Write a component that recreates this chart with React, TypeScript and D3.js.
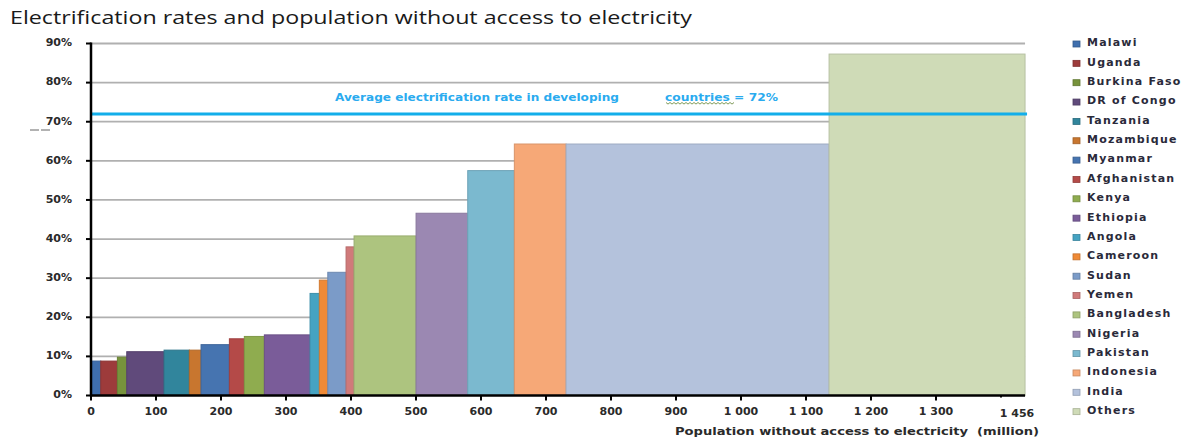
import React, { useEffect } from "react";
import * as d3 from "d3";

// Countries ordered by electrification rate, with population lacking access (million)
const countries = [
  "Malawi", "Uganda", "Burkina Faso", "DR of Congo", "Tanzania", "Mozambique",
  "Myanmar", "Afghanistan", "Kenya", "Ethiopia", "Angola", "Cameroon", "Sudan",
  "Yemen", "Bangladesh", "Nigeria", "Pakistan", "Indonesia", "India", "Others",
];
const populationWithout = [
  15, 25.6, 14.4, 57.4, 38.9, 18, 43.6, 23, 30.8, 70.3, 14.3, 13, 28.1, 12.3,
  95.4, 79.5, 71.7, 79.6, 404.6, 301.5,
];
const electrificationRate = [
  8.8, 8.8, 9.8, 11.2, 11.6, 11.6, 13.0, 14.5, 15.1, 15.5, 26.1, 29.5, 31.5,
  38.0, 40.8, 46.6, 57.5, 64.3, 64.3, 87.3,
];
const colors = [
  "#3f6fae", "#9d3b3b", "#77933c", "#604a7b", "#31859c", "#c8762f", "#4674b0",
  "#b44a48", "#8fac4f", "#7a5c99", "#45a3c2", "#ef8a36", "#7b9bc8", "#d07a7a",
  "#adc47f", "#9b88b2", "#7bb9cf", "#f6a877", "#b4c2dc", "#cfdbb7",
];

const yTicks = [0, 10, 20, 30, 40, 50, 60, 70, 80, 90];
const xTicks = [0, 100, 200, 300, 400, 500, 600, 700, 800, 900, 1000, 1100, 1200, 1300, 1400];
const xTickLabels = ["0", "100", "200", "300", "400", "500", "600", "700", "800", "900", "1 000", "1 100", "1 200", "1 300", "1 456"];
const averageRate = 72;

const W = 1195;
const H = 438;

export default function App() {
  useEffect(() => {
    document.body.style.margin = "0";
  }, []);

  const x = d3.scaleLinear().domain([0, 1400]).range([91, 1001]);
  const y = d3.scaleLinear().domain([0, 90]).range([395.5, 43.5]);

  const starts = d3.cumsum([0, ...populationWithout.slice(0, -1)]);
  const bars = countries.map((c, i) => ({
    name: c,
    x0: starts[i],
    x1: starts[i] + populationWithout[i],
    rate: electrificationRate[i],
    color: colors[i],
  }));
  const plotRight = x(d3.sum(populationWithout));

  const font = "'DejaVu Sans', Verdana, sans-serif";
  const legendStep = 19.35;

  // wavy underline beneath "countries"
  const wave = d3.line<number>()
    .x((d) => 666 + d * 2)
    .y((d, i) => 102.5 + (i % 2 === 0 ? 0 : 1.6))(d3.range(0, 35));

  return (
    <svg width={W} height={H} style={{ position: "absolute", left: 0, top: 0, background: "#fff" }}>
      <text x={10} y={24} fontFamily="'Open Sans', 'Noto Sans', sans-serif" fontSize={18}
        fill="#1a1a1a" textLength={682} lengthAdjust="spacingAndGlyphs">
        Electrification rates and population without access to electricity
      </text>

      {/* gridlines */}
      {yTicks.filter((t) => t > 0).map((t) => (
        <line key={"g" + t} x1={x(0)} x2={plotRight} y1={y(t)} y2={y(t)} stroke="#b0b0b0" strokeWidth={1.8} />
      ))}

      {/* variable-width bars */}
      {bars.map((b) => (
        <rect key={b.name} x={x(b.x0)} y={y(b.rate)} width={x(b.x1) - x(b.x0)} height={y(0) - y(b.rate)}
          fill={b.color} stroke={d3.color(b.color)!.darker(0.35).formatHex()} strokeWidth={1} />
      ))}

      {/* average electrification line */}
      <line x1={x(0) - 1} x2={plotRight + 2} y1={y(averageRate)} y2={y(averageRate)} stroke="#12aeea" strokeWidth={3} />
      <text x={335} y={101} fontFamily={font} fontSize={11} fontWeight="bold" fill="#2aabef"
        textLength={284} lengthAdjust="spacingAndGlyphs">
        Average electrification rate in developing
      </text>
      <text x={665} y={101} fontFamily={font} fontSize={11} fontWeight="bold" fill="#2aabef"
        textLength={113} lengthAdjust="spacingAndGlyphs">
        countries = 72%
      </text>
      <path d={wave ?? ""} fill="none" stroke="#6f8f45" strokeWidth={0.9} />

      {/* y axis */}
      <line x1={x(0)} x2={x(0)} y1={y(90) - 1} y2={y(0) + 1} stroke="#000" strokeWidth={2.5} />
      {yTicks.map((t) => (
        <g key={"y" + t}>
          <line x1={x(0) - 5} x2={x(0)} y1={y(t)} y2={y(t)} stroke="#000" strokeWidth={2} />
          <text x={72} y={y(t) - 1} dy="0.35em" textAnchor="end" fontFamily={font} fontSize={11}
            fontWeight="bold" fill="#2a2a2a">{t}%</text>
        </g>
      ))}
      <line x1={30} x2={52} y1={130} y2={130} stroke="#666" strokeWidth={1} strokeDasharray="9,2" />

      {/* x axis */}
      <line x1={x(0) - 1} x2={plotRight} y1={y(0)} y2={y(0)} stroke="#000" strokeWidth={2.5} />
      {xTicks.map((t, i) => {
        const last = i === xTicks.length - 1;
        return (
          <g key={"x" + t}>
            <line x1={x(t)} x2={x(t)} y1={y(0)} y2={y(0) + (last ? 2 : 5)} stroke="#000" strokeWidth={2} />
            <text x={x(t) + (last ? 16 : 0)} y={last ? 417 : 415} textAnchor="middle" fontFamily={font}
              fontSize={11} fontWeight="bold" fill="#2a2a2a">{xTickLabels[i]}</text>
          </g>
        );
      })}
      <text x={675} y={435} fontFamily={font} fontSize={11} fontWeight="bold" fill="#2a2a2a"
        textLength={364} lengthAdjust="spacingAndGlyphs" style={{ whiteSpace: "pre" }}>
        {"Population without access to electricity  (million)"}
      </text>

      {/* legend */}
      {bars.map((b, i) => {
        const cy = 44 + i * legendStep;
        return (
          <g key={"l" + b.name}>
            <rect x={1073} y={cy - 3} width={7} height={6} fill={b.color}
              stroke={d3.color(b.color)!.darker(0.6).formatHex()} strokeWidth={0.8} />
            <text x={1087} y={cy - 1.5} dy="0.35em" fontFamily={font} fontSize={11} fontWeight="bold"
              letterSpacing={1.2} fill="#2a2a3a">{b.name}</text>
          </g>
        );
      })}
    </svg>
  );
}
